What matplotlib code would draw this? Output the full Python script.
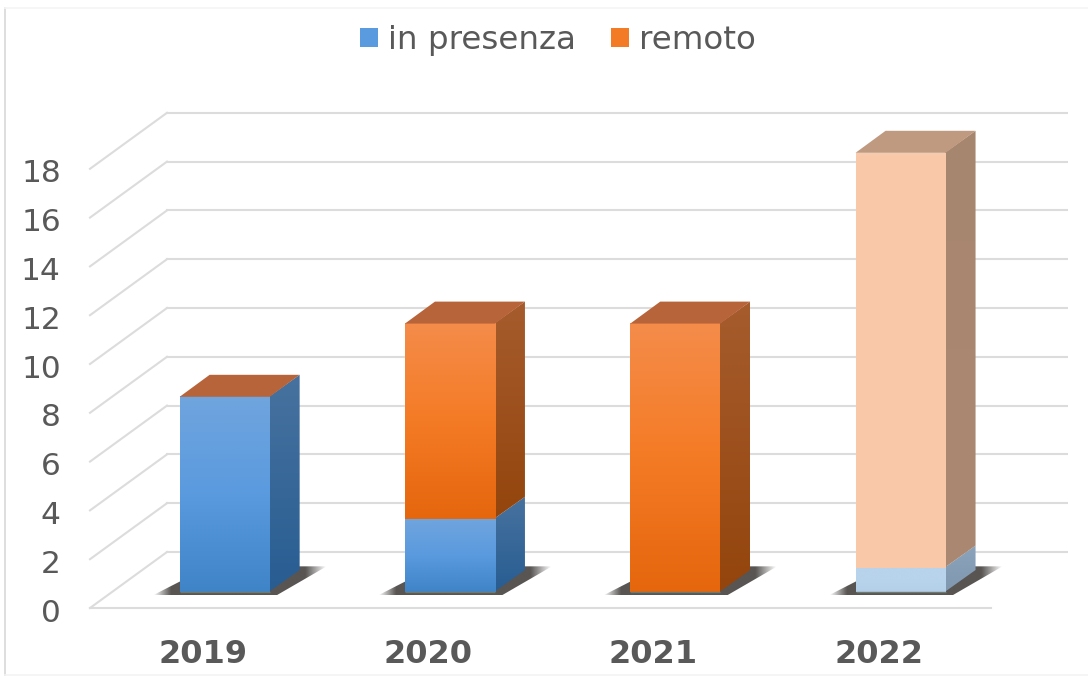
#!/usr/bin/env python3
import matplotlib
matplotlib.use("Agg")
import matplotlib.pyplot as plt
import numpy as np
from matplotlib.colors import LinearSegmentedColormap, to_rgb
from matplotlib.lines import Line2D
from matplotlib.patches import Patch, Polygon
from matplotlib.transforms import ScaledTranslation

years = ["2019", "2020", "2021", "2022"]
in_presenza = [8, 3, 0, 1]
remoto = [0, 8, 11, 17]
yticks = [0, 2, 4, 6, 8, 10, 12, 14, 16, 18]

W, H = 1088, 676
L, R, T, B = 90, 1068, 100, 608
PX_X = 225.3  # pixel per categoria
PX_Y = 24.4  # pixel per unita

# finta prospettiva, in unita dati
WALL_DX, WALL_DY = 77 / PX_X, 56 / PX_Y
BAR_DX, BAR_DY = 30 / PX_X, 22 / PX_Y
OFF_X, OFF_Y = 22 / PX_X, 16 / PX_Y
BAR_W = 90 / PX_X

GRID = "#dcdcdc"
TEXT = "#595959"

# colori (fronte alto, medio, basso / lato alto, basso / tetto)
BLUE = dict(front=["#70a5de", "#5a9ade", "#4084c8"], side=["#47729f", "#285d92"])
ORANGE = dict(front=["#f58c4a", "#f47b25", "#e5660d"], side=["#a65c2d", "#94450d"], top="#b8643a")
BLUE_PALE = dict(front=["#b8d3ec", "#b8d3ec", "#b4cfe8"], side=["#8ba4bc", "#7f98b0"])
ORANGE_PALE = dict(front=["#f8c9aa", "#f8c8a9", "#f8c8a9"], side=["#a78670", "#ab8870"], top="#bf9a80")


def gradient(ax, colors, extent, clip=None, z=3):
    cmap = LinearSegmentedColormap.from_list("g", colors)
    im = ax.imshow(np.linspace(0, 1, 128)[:, None], cmap=cmap, extent=extent,
                   aspect="auto", origin="upper", interpolation="bilinear", zorder=z)
    if clip is not None:
        im.set_clip_path(Polygon(clip, closed=True, transform=ax.transData))


def shadow(ax, x0, x1):
    # ombra sul pavimento, sfuma verso le punte
    pad = 27 / PX_X
    lo, hi = OFF_Y - 0.14, OFF_Y + BAR_DY + 0.15
    pts = [(x0 - pad, lo), (x1 + 0.03, lo), (x1 + BAR_DX + pad, hi), (x0 + BAR_DX, hi)]
    a = np.interp(np.linspace(0, 1, 128), [0, 0.1, 0.88, 1], [0, 0.95, 0.95, 0])
    img = np.zeros((1, 128, 4))
    img[..., :3] = to_rgb("#4f4c4a")
    img[..., 3] = a
    im = ax.imshow(img, extent=[x0 - pad, x1 + BAR_DX + pad, lo, hi],
                   aspect="auto", interpolation="bilinear", zorder=2)
    im.set_clip_path(Polygon(pts, closed=True, transform=ax.transData))


def segment(ax, x0, x1, y0, y1, style):
    gradient(ax, style["front"], [x0, x1, y0, y1], z=4)
    # il lato parte un po' sotto il fronte per non lasciare fessure
    xs = x1 - 0.004
    side = [(xs, y0), (x1 + BAR_DX, y0 + BAR_DY), (x1 + BAR_DX, y1 + BAR_DY), (xs, y1)]
    gradient(ax, style["side"], [xs, x1 + BAR_DX, y0, y1 + BAR_DY], clip=side, z=3)


fig = plt.figure(figsize=(W / 100, H / 100), dpi=100, facecolor="white")
ax = fig.add_axes([L / W, (H - B) / H, (R - L) / W, (B - T) / H])
xlim = (-0.5, -0.5 + (R - L) / PX_X)
ylim = (0, (B - T) / PX_Y)

# cornice appena visibile dell'immagine
fig.add_artist(Line2D([5 / W, 5 / W], [0, 1 - 8 / H], color="#dedede", lw=1.4))
fig.add_artist(Line2D([5 / W, 1], [1 - 8 / H, 1 - 8 / H], color="#f5f5f5", lw=1.2))
fig.add_artist(Line2D([5 / W, 1], [1 / H, 1 / H], color="#f3f3f3", lw=1.2))

# griglia: pavimento, parete di fondo, diagonali
for v in yticks:
    ax.plot([xlim[0] + WALL_DX, xlim[1]], [v + WALL_DY] * 2, color=GRID, lw=1.5, zorder=1)
    ax.plot([xlim[0], xlim[0] + WALL_DX], [v, v + WALL_DY], color=GRID, lw=1.5, zorder=1, clip_on=False)
ax.plot([xlim[0], 3.5], [0, 0], color=GRID, lw=1.5, zorder=1, clip_on=False)

for i, year in enumerate(years):
    x0 = i + OFF_X - BAR_W / 2
    x1 = x0 + BAR_W
    pale = year == "2022"
    blue = BLUE_PALE if pale else BLUE
    orange = ORANGE_PALE if pale else ORANGE
    base = OFF_Y
    shadow(ax, x0, x1)
    if in_presenza[i] > 0:
        segment(ax, x0, x1, base, base + in_presenza[i], blue)
    mid = base + in_presenza[i]
    if remoto[i] > 0:
        segment(ax, x0, x1, mid, mid + remoto[i], orange)
    top = mid + remoto[i]
    ax.add_patch(Polygon([(x0, top), (x1, top), (x1 + BAR_DX, top + BAR_DY), (x0 + BAR_DX, top + BAR_DY)],
                         closed=True, fc=orange["top"], ec="none", zorder=5))
    ax.plot([x0, x1], [base, base], color="#6e7a70", lw=1.0, zorder=6, solid_capstyle="butt")

ax.set_xlim(xlim)
ax.set_ylim(ylim)
ax.set_xticks(range(len(years)), years)
ax.set_yticks(yticks, [str(v) for v in yticks])
ax.tick_params(axis="x", length=0, pad=22, labelsize=23, labelcolor=TEXT)
ax.tick_params(axis="y", length=0, pad=21, labelsize=22.5, labelcolor=TEXT)
for lab in ax.get_xticklabels():
    lab.set_fontweight("bold")
for lab in ax.get_yticklabels():
    lab.set_transform(lab.get_transform() + ScaledTranslation(0, -2 / 100, fig.dpi_scale_trans))
for s in ax.spines.values():
    s.set_visible(False)
ax.patch.set_alpha(0)

handles = [Patch(fc="#5a9ade", label="in presenza"), Patch(fc="#f47b25", label="remoto")]
fig.legend(handles=handles, loc="upper center", bbox_to_anchor=(0.5129, 0.963), ncol=2, frameon=False,
           fontsize=23.4, labelcolor=TEXT, handlelength=0.555, handleheight=0.555, handletextpad=0.31,
           columnspacing=1.08, borderpad=0, borderaxespad=0)

fig.savefig("out.png", dpi=100)
